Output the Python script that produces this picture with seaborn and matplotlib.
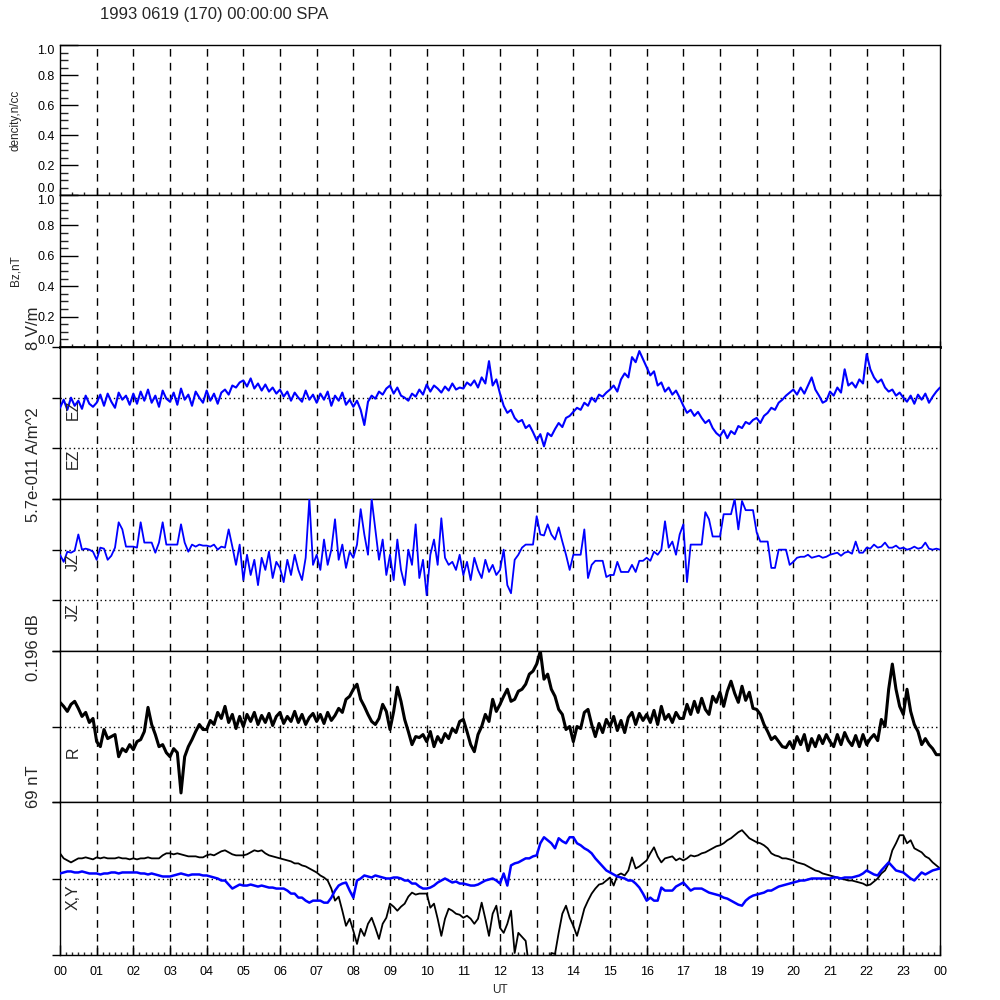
import numpy as np
import pandas as pd
import matplotlib
matplotlib.use('Agg')
import matplotlib.pyplot as plt
import seaborn as sns
from matplotlib.ticker import MultipleLocator, FixedLocator

# sample times, hours UT (one point every 6 min)
hours = np.round(np.arange(0, 24.01, 0.1), 1)

# EZ, offset from upper reference line (panel units)
ez = [-10, -2, -12, 0, -8, -3, -11, 2, -6, -9,
      -5, 3, -8, 4, -4, -10, 5, -2, 2, -7,
      4, -6, 6, -3, 8, -5, 2, -9, 7, -1,
      -4, 5, -7, 9, -2, 3, -8, 6, 0, -5,
      7, -3, 4, -6, 5, 8, 3, 12, 10, 15,
      17, 11, 19, 9, 14, 7, 13, 6, 10, 4,
      8, 1, 6, -3, 5, 0, -4, 7, -2, 3,
      -5, 4, -2, 6, -8, 2, -3, 5, -7, -2,
      -9, -3, -12, -27, -4, 2, -1, 6, 3, 9,
      12, 4, 10, 2, 0, -3, 4, 1, 8, 3,
      13, 6, 12, 9, 5, 11, 7, 14, 8, 10,
      9, 15, 12, 17, 10, 20, 14, 36, 12, 18,
      4, -8, -15, -12, -20, -24, -22, -30, -27, -34,
      -42, -36, -48, -35, -38, -31, -25, -29, -20, -18,
      -14, -10, -12, -5, -8, 0, -4, 3, 1, 5,
      8, 12, 6, 18, 24, 20, 40, 35, 46, 38,
      30, 22, 26, 12, 15, 6, 10, 3, 7, 0,
      -8, -15, -12, -18, -14, -20, -25, -22, -30, -35,
      -38, -32, -40, -33, -36, -28, -30, -24, -26, -22,
      -20, -25, -18, -15, -10, -12, -5, -2, 2, 5,
      8, 3, 10, 4, 12, 20, 8, 2, -5, -3,
      6, 2, 10, 5, 28, 12, 15, 10, 18, 14,
      43, 28, 20, 15, 18, 10, 6, 8, 2, 5,
      0, -4, 2, -6, 3, -2, 4, -5, 1, 6,
      10]

# JZ
jz = [-5, -12, -2, -3, -1, 15, 0, 1, 0, -2,
      -10, 2, 1, -10, -6, 2, 27, 20, 3, 3,
      3, 2, 27, 7, 7, 7, -3, 7, 27, 5,
      5, 5, 5, 25, 7, -2, 5, 3, 5, 4,
      4, 3, 5, 0, 3, 2, 20, 3, -15, 5,
      -30, -5, -25, -10, -35, -8, -20, -2, -28, -12,
      -18, -32, -10, -25, -5, -20, -30, -8, 50, -15,
      -5, -20, 10, -15, 0, 30, -10, 5, -18, -2,
      -8, 5, 40, 15, -5, 50, 20, -10, 10, -25,
      -5, -30, 10, -20, -35, 0, -15, 25, -28, -10,
      -45, -5, 10, -15, 31, -8, -15, -12, -20, -5,
      -25, -12, -30, -8, -20, -28, -10, -22, -15, -25,
      -20, 0, -35, -43, -10, -5, 2, 5, 5, 5,
      33, 15, 14, 25, 15, 10, 22, 8, -5, -20,
      -5, -5, -5, 20, -28, -15, -11, -11, -11, -27,
      -25, -25, -12, -22, -22, -22, -15, -22, -11, -11,
      -8, -11, -2, -5, 0, 28, 2, 8, -5, 15,
      25, -32, 5, 5, 5, 5, 37, 30, 13, 13,
      13, 35, 35, 35, 50, 20, 48, 39, 39, 39,
      17, 8, 8, 8, -18, -18, 0, 0, 0, -15,
      -12, -8, -7, -7, -5, -8, -7, -6, -8, -7,
      -5, -4, -3, -6, -3, -2, -4, 8, -3, -3,
      2, 1, 5, 2, 3, 7, 2, 2, 4, 1,
      2, 0, 1, 3, 1, 2, 7, 1, 0, 1,
      0]

# R
r = [24, 20, 15, 22, 25, 18, 10, 14, 4, 8,
     -15, -20, -3, -12, -10, -8, -30, -22, -25, -18,
     -23, -15, -13, -5, 19, 2, -8, -20, -18, -26,
     -30, -22, -26, -66, -30, -20, -13, -5, 2, -3,
     -3, 6, 2, 14, 8, 20, 4, 12, -2, 10,
     0, 12, 5, 14, 2, 11, 4, 13, 1, 10,
     14, 3, 10, 5, 15, 4, 12, 2, 9, 13,
     5, 12, 3, 14, 6, 11, 18, 14, 27, 30,
     37, 42, 27, 20, 12, 5, 2, 8, 22, 15,
     -3, 15, 39, 25, 7, -5, -18, -10, -11, -8,
     -15, -5, -20, -10, -16, -7, -12, -2, -6, 5,
     7, -5, -18, -25, -8, 0, 12, 5, 27, 15,
     22, 30, 37, 25, 27, 35, 37, 42, 52, 55,
     62, 75, 47, 52, 37, 30, 17, 12, -3, 0,
     -15, 0, -2, 14, 17, 2, -10, 3, -6, 7,
     0, 10, -4, 6, -6, 9, 14, 2, 13, 6,
     12, 4, 16, 2, 20, 7, 12, 4, 14, 8,
     8, 22, 12, 25, 14, 28, 17, 12, 30, 24,
     34, 20, 35, 45, 33, 24, 40, 26, 34, 18,
     17, 12, 2, -5, -13, -10, -15, -20, -21, -15,
     -22, -10, -18, -8, -24, -12, -20, -9, -17, -8,
     -15, -20, -8, -18, -6, -14, -19, -9, -20, -8,
     -18, -12, -8, -14, 7, 0, 37, 62, 37, 20,
     12, 37, 15, 2, -5, -18, -12, -18, -22, -28,
     -28]

# X (black) and Y (blue)
bx = [25, 20, 18, 16, 18, 20, 20, 21, 20, 19,
      21, 20, 21, 20, 20, 20, 21, 20, 20, 19,
      20, 19, 20, 20, 21, 20, 20, 20, 23, 25,
      25, 24, 25, 24, 23, 22, 22, 22, 21, 21,
      23, 24, 23, 25, 27, 28, 26, 24, 23, 23,
      23, 24, 26, 28, 27, 28, 25, 23, 22, 21,
      20, 19, 18, 17, 15, 15, 13, 12, 10, 8,
      6, 3, 1, -2, -10, -22, -18, -32, -47, -40,
      -52, -65, -50, -57, -45, -39, -49, -60, -45, -39,
      -25, -28, -32, -28, -25, -18, -14, -16, -15, -15,
      -15, -29, -25, -40, -57, -40, -30, -32, -35, -36,
      -39, -37, -40, -45, -40, -24, -40, -57, -35, -27,
      -49, -54, -45, -32, -74, -54, -58, -62, -90, -95,
      -95, -95, -95, -95, -74, -75, -54, -35, -27, -39,
      -47, -57, -44, -30, -22, -15, -10, -6, -5, -2,
      1, -7, 3, 5, 3, 8, 21, 10, 12, 15,
      18, 25, 31, 22, 16, 20, 21, 22, 18, 20,
      18, 20, 23, 22, 23, 25, 26, 28, 30, 32,
      33, 35, 38, 40, 43, 46, 48, 44, 40, 38,
      36, 35, 33, 30, 25, 23, 22, 20, 20, 19,
      18, 16, 15, 14, 12, 10, 8, 7, 5, 4,
      3, 2, 1, 0, -1, -2, -2, -3, -4, -5,
      -7, -6, -3, 0, 5, 8, 15, 28, 35, 43,
      43, 35, 38, 30, 28, 26, 22, 20, 16, 13,
      10]

by = [5, 6, 7, 7, 6, 6, 7, 6, 5, 5,
      5, 4, 5, 5, 6, 6, 5, 6, 6, 6,
      6, 6, 5, 5, 4, 5, 4, 3, 2, 2,
      2, 3, 4, 5, 4, 3, 4, 4, 4, 3,
      3, 2, 1, 0, -2, -2, -6, -10, -8, -6,
      -7, -7, -6, -7, -8, -7, -8, -9, -9, -10,
      -10, -10, -12, -15, -15, -19, -19, -22, -24, -22,
      -22, -22, -24, -24, -19, -12, -7, -5, -4, -12,
      -19, -2, 0, 3, 2, 1, 3, 2, 1, 0,
      0, 1, 1, 0, -2, -2, -5, -5, -8, -10,
      -10, -9, -7, -4, -2, 0, -2, -4, -3, -5,
      -5, -6, -7, -7, -6, -4, -2, -1, 0, -2,
      -5, 5, -7, 13, 15, 16, 18, 20, 20, 22,
      23, 35, 41, 38, 35, 30, 40, 37, 35, 41,
      41, 35, 33, 30, 28, 25, 20, 16, 12, 8,
      6, 4, 2, 1, 0, -2, -2, -5, -9, -15,
      -22, -19, -22, -22, -9, -12, -12, -12, -8, -6,
      -4, -8, -12, -10, -10, -10, -12, -14, -15, -16,
      -17, -19, -20, -22, -24, -26, -27, -22, -19, -17,
      -16, -15, -14, -12, -12, -10, -8, -7, -6, -5,
      -4, -3, -2, -2, -1, 0, 0, 0, 0, 0,
      0, 1, 1, 0, 1, 1, 1, 2, 3, 5,
      8, 6, 4, 3, 8, 12, 16, 12, 8, 7,
      6, 3, 0, -2, 2, 6, 4, 6, 8, 9,
      10]

hour_labels = ['%02d' % (h % 24) for h in range(25)]
unit_ticks = [0.0, 0.2, 0.4, 0.6, 0.8, 1.0]

df = pd.DataFrame({'UT': hours, 'EZ': ez, 'JZ': jz, 'R': r, 'X': bx, 'Y': by})

#%%
sns.set_style('white')
plt.rcParams['font.family'] = ['Liberation Sans', 'DejaVu Sans']
plt.rcParams['axes.linewidth'] = 1.0

fig = plt.figure(figsize=(10, 10), dpi=100)
edges = [45, 195, 347, 499, 651, 802, 955]
axs = []
for i in range(6):
    top, bot = edges[i], edges[i + 1]
    ax = fig.add_axes([0.06, 1 - bot / 1000, 0.88, (bot - top) / 1000])
    ax.set_facecolor('white')
    for s in ax.spines.values():
        s.set_color('black')
        s.set_linewidth(1.0)
    ax.set_xlim(0, 24)
    for h in range(1, 24):
        ax.axvline(h, color='black', lw=1.0, ls=(0, (5.5, 4.5)), zorder=1)
    axs.append(ax)

dot = (0, (1.0, 2.2))

# panels 1-2: empty 0..1
for ax, lab in zip(axs[:2], ['dencity,n/cc', 'Bz,nT']):
    ax.set_ylim(0, 1)
    ax.set_yticks(unit_ticks)
    tl = ax.set_yticklabels(['%.1f' % v for v in unit_ticks])
    tl[0].set_va('bottom')
    tl[-1].set_va('top')
    ax.yaxis.set_minor_locator(MultipleLocator(0.05))
    ax.tick_params(axis='y', which='major', direction='in', length=13, width=1,
                   labelsize=9, pad=4, left=True, colors='black')
    ax.tick_params(axis='y', which='minor', direction='in', length=5.5, width=1, left=True)
    ax.xaxis.set_major_locator(MultipleLocator(1))
    ax.xaxis.set_minor_locator(MultipleLocator(1 / 3))
    ax.tick_params(axis='x', which='major', direction='in', length=4, width=1,
                   bottom=True, labelbottom=False)
    ax.tick_params(axis='x', which='minor', direction='in', length=2.5, width=1, bottom=True)
    ax.set_ylabel(lab, fontsize=8.5, labelpad=11)
axs[1].spines['bottom'].set_linewidth(2.0)

# panel 3: EZ
ax = axs[2]
sns.lineplot(data=df, x='UT', y='EZ', ax=ax, color='#0000ff', lw=1.5, zorder=3)
ax.set_ylim(-100, 50)
for v in [0, -50]:
    ax.axhline(v, color='black', lw=1.0, ls=dot, zorder=2)

# panel 4: JZ
ax = axs[3]
sns.lineplot(data=df, x='UT', y='JZ', ax=ax, color='#0000ff', lw=1.3, zorder=3)
ax.set_ylim(-100, 50)
for v in [0, -50]:
    ax.axhline(v, color='black', lw=1.0, ls=dot, zorder=2)

# panel 5: R
ax = axs[4]
sns.lineplot(data=df, x='UT', y='R', ax=ax, color='black', lw=2.2, zorder=3)
ax.set_ylim(-75, 75)
ax.axhline(0, color='black', lw=1.0, ls=dot, zorder=2)

# panel 6: X, Y
ax = axs[5]
sns.lineplot(data=df, x='UT', y='X', ax=ax, color='black', lw=1.3, zorder=3)
sns.lineplot(data=df, x='UT', y='Y', ax=ax, color='#0000ff', lw=1.8, zorder=3)
ax.set_ylim(-76, 76)
ax.axhline(0, color='black', lw=1.0, ls=dot, zorder=2)

for ax, yt in zip(axs[2:], [[-100, -50, 0, 50], [-100, -50, 0, 50],
                             [-75, 0, 75], [-76, 0, 76]]):
    ax.set_ylabel('')
    ax.yaxis.set_major_locator(FixedLocator(yt))
    ax.tick_params(axis='y', which='major', direction='out', length=6, width=1,
                   left=True, labelleft=False, colors='black')
    ax.set_xlabel('')

for ax in axs[2:5]:
    ax.tick_params(axis='x', bottom=False, labelbottom=False)

ax = axs[5]
ax.set_xticks(range(25))
ax.set_xticklabels(hour_labels)
ax.xaxis.set_minor_locator(MultipleLocator(1 / 6))
ax.tick_params(axis='x', which='major', direction='in', length=7, width=1,
               bottom=True, labelsize=9, pad=8, colors='black')
ax.tick_params(axis='x', which='minor', direction='in', length=2.5, width=1, bottom=True)
ax.set_xlabel('UT', fontsize=8.5, labelpad=4)

# texts
fig.text(0.100, 0.985, '1993 0619 (170) 00:00:00 SPA', fontsize=12, ha='left', va='center')
for txt, yb in [('8 V/m', 350), ('5.7e-011 A/m^2', 522), ('0.196 dB', 681), ('69 nT', 808)]:
    fig.text(0.033, 1 - yb / 1000, txt, rotation=90, fontsize=12, ha='center', va='bottom')
for txt, yt in [('EZ', 400), ('EZ', 449), ('JZ', 553), ('JZ', 603), ('R', 746), ('X,Y', 884)]:
    fig.text(0.073, 1 - yt / 1000, txt, rotation=90, fontsize=11.5, ha='center', va='top')

plt.savefig('out.png', dpi=100, facecolor='white')
